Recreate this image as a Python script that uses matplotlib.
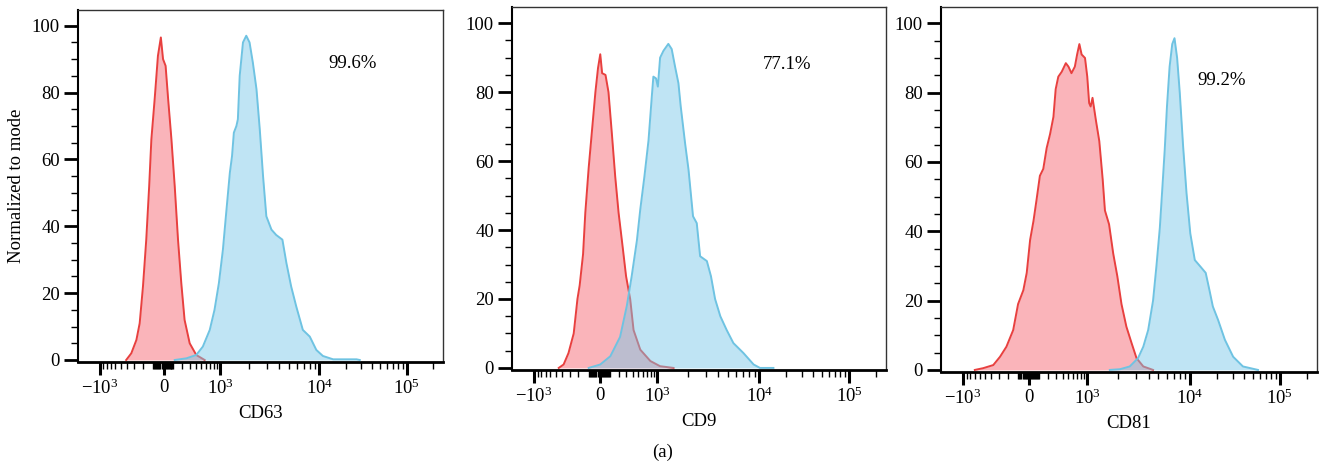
import numpy as np
import matplotlib
matplotlib.use('Agg')
import matplotlib.pyplot as plt
from matplotlib.ticker import FixedLocator, MultipleLocator

plt.rcParams['font.family'] = ['Liberation Serif', 'DejaVu Serif']
plt.rcParams['mathtext.fontset'] = 'custom'
plt.rcParams['mathtext.rm'] = 'Liberation Serif'
plt.rcParams['mathtext.it'] = 'Liberation Serif:italic'
plt.rcParams['mathtext.bf'] = 'Liberation Serif:bold'

# x values are display channel positions (0-1 along the biexponential axis)
markers = ['CD63', 'CD9', 'CD81']
percent_labels = ['99.6%', '77.1%', '99.2%']

cd63_red_x = [0.132, 0.146, 0.160, 0.169, 0.178, 0.187, 0.195, 0.201, 0.210, 0.219, 0.227,
              0.233, 0.240, 0.247, 0.256, 0.265, 0.274, 0.283, 0.292, 0.306, 0.324, 0.347]
cd63_red_y = [0, 2, 6, 11, 22, 36, 52, 66, 78, 91, 96.5,
              90, 88, 78, 66, 52, 36, 23, 12, 5, 1.5, 0]
cd63_blue_x = [0.265, 0.297, 0.324, 0.342, 0.361, 0.374, 0.386, 0.397, 0.406, 0.416, 0.422,
               0.427, 0.434, 0.438, 0.443, 0.452, 0.461, 0.470, 0.479, 0.489, 0.498, 0.507,
               0.516, 0.530, 0.543, 0.560, 0.571, 0.584, 0.598, 0.616, 0.635, 0.653, 0.671,
               0.699, 0.763, 0.772]
cd63_blue_y = [0, 0.5, 1.5, 4, 9, 15, 23, 33, 44, 56, 61,
               68, 70, 72, 85, 95, 97, 95, 89, 81, 69, 55,
               43, 39, 37.4, 36, 29, 22, 16, 9, 7, 3, 1.2,
               0.2, 0.2, 0]

cd9_red_x = [0.125, 0.138, 0.151, 0.165, 0.175, 0.181, 0.190, 0.196, 0.205, 0.214, 0.223,
             0.230, 0.236, 0.241, 0.250, 0.258, 0.267, 0.276, 0.285, 0.296, 0.305, 0.316,
             0.325, 0.343, 0.370, 0.396, 0.432]
cd9_red_y = [0, 1, 4.3, 10, 20, 24, 33, 45, 58, 69, 80,
             87, 91, 85.5, 85, 80, 68, 55.5, 45, 35, 26.6, 20,
             11, 5.3, 2, 0.5, 0]
cd9_blue_x = [0.205, 0.236, 0.263, 0.289, 0.307, 0.320, 0.334, 0.343, 0.354, 0.365, 0.374,
              0.378, 0.385, 0.390, 0.396, 0.405, 0.418, 0.427, 0.436, 0.445, 0.451, 0.463,
              0.472, 0.484, 0.494, 0.503, 0.521, 0.532, 0.543, 0.557, 0.574, 0.592, 0.619,
              0.646, 0.663, 0.699]
cd9_blue_y = [0, 1, 3.4, 9, 18, 26.6, 37, 46, 55.5, 66, 79,
              84.5, 84, 81.6, 90, 92, 94, 92.5, 87.4, 82.6, 76, 65,
              57.5, 44, 42, 32.4, 31, 26.6, 20, 15, 11, 7.2, 4.3,
              1, 0, 0]

cd81_red_x = [0.090, 0.112, 0.139, 0.157, 0.174, 0.192, 0.205, 0.219, 0.228, 0.237, 0.246,
              0.254, 0.263, 0.272, 0.281, 0.290, 0.299, 0.305, 0.312, 0.321, 0.332, 0.339,
              0.347, 0.356, 0.362, 0.368, 0.374, 0.383, 0.389, 0.394, 0.398, 0.403, 0.412,
              0.421, 0.430, 0.436, 0.447, 0.458, 0.469, 0.480, 0.493, 0.507, 0.520, 0.538,
              0.564]
cd81_red_y = [0, 0.5, 1.4, 3.8, 6.7, 11.5, 19, 23, 28, 37.5, 43,
              49, 56, 58, 64, 68, 73, 81, 84.6, 86, 88.5, 87.5,
              85.6, 87.5, 91, 94, 91, 90, 84.6, 77, 76, 78.5, 72,
              66, 55, 46, 42, 33.6, 27, 19, 12.5, 7.7, 3.4, 1,
              0]
cd81_blue_x = [0.449, 0.476, 0.502, 0.524, 0.538, 0.551, 0.564, 0.573, 0.582, 0.589, 0.595,
               0.601, 0.608, 0.615, 0.621, 0.628, 0.635, 0.644, 0.653, 0.663, 0.675, 0.690,
               0.704, 0.714, 0.723, 0.737, 0.755, 0.777, 0.803, 0.843]
cd81_blue_y = [0, 0.2, 1, 3.4, 6.7, 11.5, 20, 30, 41, 53, 63.5,
               76, 87.5, 94, 95.7, 90, 80, 64.4, 51, 39.4, 31.7, 29.8,
               28, 23, 18.3, 14.4, 8.7, 3.8, 1, 0]

red_series = [(cd63_red_x, cd63_red_y), (cd9_red_x, cd9_red_y), (cd81_red_x, cd81_red_y)]
blue_series = [(cd63_blue_x, cd63_blue_y), (cd9_blue_x, cd9_blue_y), (cd81_blue_x, cd81_blue_y)]

# biexponential axis: anchor values and where they sit along the axis
anchor_vals = np.array([-1e4, -1e3, 0, 1e3, 1e4, 1e5, 1e6])
anchor_pos = np.array([-0.20, 0.059, 0.235, 0.389, 0.661, 0.901, 1.141])
W = 300.0


def chan(v):
    return np.interp(np.arcsinh(np.asarray(v, float) / W), np.arcsinh(anchor_vals / W), anchor_pos)


major_vals = [-1e3, 0, 1e3, 1e4, 1e5]
major_labels = ['\u2212' + r'$\mathregular{10^{3}}$', '0', r'$\mathregular{10^{3}}$',
                r'$\mathregular{10^{4}}$', r'$\mathregular{10^{5}}$']
minor_vals = []
for d in [10, 100]:
    for k in range(1, 10):
        minor_vals += [-k * d, k * d]
for d in [1000, 10000]:
    for k in range(2, 10):
        minor_vals.append(k * d)
minor_vals += [-2000, 2e5]

# axes boxes in pixels: left, right, top, bottom
W_PX, H_PX = 1322, 466
boxes = [(78, 443, 10, 362), (512, 886, 7, 370), (941, 1317, 7, 372)]
pct_pos = [(0.751, 88.6), (0.735, 88.0), (0.747, 83.6)]

red_line = '#e8403f'
red_fill = '#f23c4a'
blue_line = '#6fc3e2'
blue_fill = '#7ac8e8'
fs = 13.5

fig = plt.figure(figsize=(W_PX / 100, H_PX / 100), dpi=100)

for i in range(3):
    l, r, t, b = boxes[i]
    ax = fig.add_axes([l / W_PX, 1 - b / H_PX, (r - l) / W_PX, (b - t) / H_PX])
    rx, ry = red_series[i]
    bx, by = blue_series[i]
    ax.fill_between(rx, ry, 0, color=red_fill, alpha=0.38, lw=0, zorder=1)
    ax.plot(rx, ry, color=red_line, lw=1.4, zorder=2)
    ax.fill_between(bx, by, 0, color=blue_fill, alpha=0.48, lw=0, zorder=3)
    ax.plot(bx, by, color=blue_line, lw=1.4, zorder=4)

    ax.set_xlim(0, 1)
    ax.set_ylim(-0.6, 104.7)
    ax.xaxis.set_major_locator(FixedLocator(chan(major_vals)))
    ax.set_xticklabels(major_labels)
    ax.xaxis.set_minor_locator(FixedLocator(chan(minor_vals)))
    ax.yaxis.set_major_locator(FixedLocator([0, 20, 40, 60, 80, 100]))
    ax.yaxis.set_minor_locator(MultipleLocator(5))

    ax.tick_params(axis='x', which='major', length=9, width=2.2, labelsize=fs, pad=3)
    ax.tick_params(axis='x', which='minor', length=5, width=1)
    ax.tick_params(axis='y', which='major', length=10, width=2, labelsize=fs, pad=3)
    ax.tick_params(axis='y', which='minor', length=5, width=1)
    for s in ['top', 'right']:
        ax.spines[s].set_linewidth(1)
        ax.spines[s].set_color('#333333')
    ax.spines['left'].set_linewidth(1.5)
    ax.spines['bottom'].set_linewidth(2)

    ax.set_xlabel(markers[i], fontsize=fs, labelpad=5)
    px, py = pct_pos[i]
    ax.text(px, py, percent_labels[i], fontsize=fs, ha='center', va='center')
    if i == 0:
        ax.set_ylabel('Normalized to mode', fontsize=fs, labelpad=5)

fig.text(663 / W_PX, 1 - 452 / H_PX, '(a)', fontsize=fs, ha='center', va='center')

fig.savefig('out.png', dpi=100)
